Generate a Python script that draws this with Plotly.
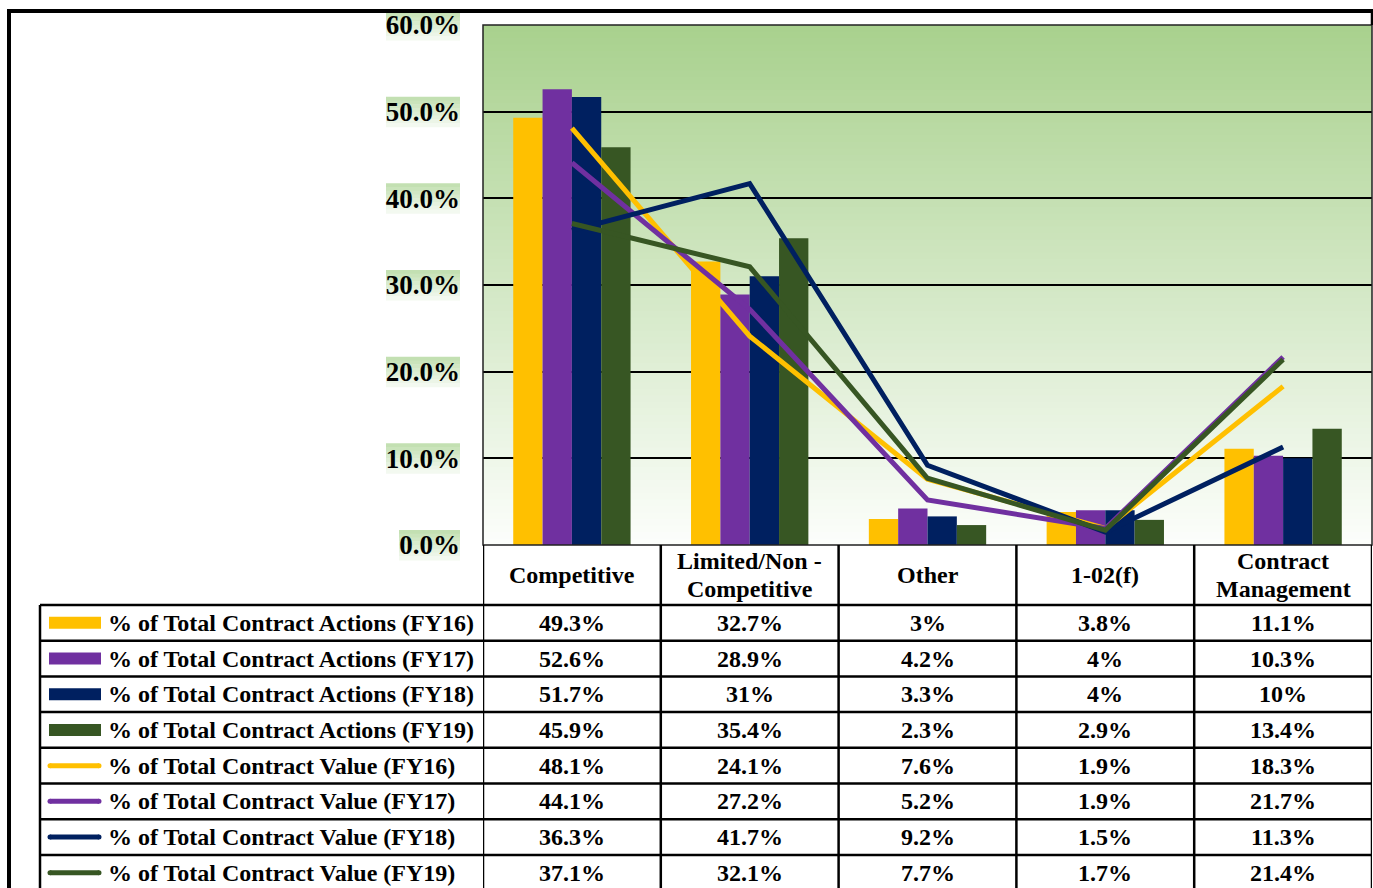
import plotly.graph_objects as go

categories = ["Competitive", "Limited/Non -<br>Competitive", "Other", "1-02(f)", "Contract<br>Management"]

actions_fy16 = [49.3, 32.7, 3, 3.8, 11.1]
actions_fy17 = [52.6, 28.9, 4.2, 4, 10.3]
actions_fy18 = [51.7, 31, 3.3, 4, 10]
actions_fy19 = [45.9, 35.4, 2.3, 2.9, 13.4]
value_fy16 = [48.1, 24.1, 7.6, 1.9, 18.3]
value_fy17 = [44.1, 27.2, 5.2, 1.9, 21.7]
value_fy18 = [36.3, 41.7, 9.2, 1.5, 11.3]
value_fy19 = [37.1, 32.1, 7.7, 1.7, 21.4]

bar_names = ["% of Total Contract Actions (FY16)", "% of Total Contract Actions (FY17)",
             "% of Total Contract Actions (FY18)", "% of Total Contract Actions (FY19)"]
line_names = ["% of Total Contract Value (FY16)", "% of Total Contract Value (FY17)",
              "% of Total Contract Value (FY18)", "% of Total Contract Value (FY19)"]
tick_vals = [0, 10, 20, 30, 40, 50, 60]
tick_text = ["0.0%", "10.0%", "20.0%", "30.0%", "40.0%", "50.0%", "60.0%"]

colors = ["#FFC000", "#7030A0", "#002060", "#375623"]

W, H = 1373, 888
FONT = "Liberation Serif"
TSIZE = 24


def px(x):
    return x / W


def py(y):
    return 1 - y / H


PLOT_L, PLOT_R, PLOT_T, PLOT_B = 483, 1372, 25, 545

fig = go.Figure()
bar_series = [actions_fy16, actions_fy17, actions_fy18, actions_fy19]
line_series = [value_fy16, value_fy17, value_fy18, value_fy19]
for name, vals, c in zip(bar_names, bar_series, colors):
    fig.add_trace(go.Bar(x=categories, y=vals, name=name, marker=dict(color=c, line=dict(width=0))))
for name, vals, c in zip(line_names, line_series, colors):
    fig.add_trace(go.Scatter(x=categories, y=vals, name=name, mode="lines",
                             line=dict(color=c, width=5)))

shapes = []
annotations = []

# gradient plot background
n = 80
top = (169, 209, 142)
bot = (252, 254, 251)
for i in range(n):
    f = i / (n - 1)
    col = tuple(int(round(top[k] + (bot[k] - top[k]) * f)) for k in range(3))
    y1 = 60 - 60 * i / n
    y0 = 60 - 60 * (i + 1) / n
    shapes.append(dict(type="rect", xref="x domain", yref="y", x0=0, x1=1, y0=y0 - 0.05, y1=y1,
                       fillcolor="rgb(%d,%d,%d)" % col, line=dict(width=0), layer="below"))

# tick label background boxes
for v, t in zip(tick_vals, tick_text):
    yc = PLOT_B - (PLOT_B - PLOT_T) * v / 60
    x1 = 460
    x0 = 386 if len(t) == 5 else 399
    nb = 8
    for j in range(nb):
        f = j / (nb - 1)
        c0 = (195, 224, 178)
        c1 = (243, 249, 240)
        col = tuple(int(round(c0[k] + (c1[k] - c0[k]) * f)) for k in range(3))
        ya = yc - 15 + 30 * j / nb
        yb = yc - 15 + 30 * (j + 1) / nb + 0.5
        shapes.append(dict(type="rect", xref="paper", yref="paper", x0=px(x0), x1=px(x1),
                           y0=py(yb), y1=py(ya), fillcolor="rgb(%d,%d,%d)" % col,
                           line=dict(width=0), layer="below"))

# plot border
shapes.append(dict(type="rect", xref="x domain", yref="y domain", x0=0, x1=1, y0=0, y1=1,
                   line=dict(color="#222222", width=1.5), layer="above"))

# outer frame
shapes.append(dict(type="line", xref="paper", yref="paper", x0=px(7), x1=1.0, y0=py(11), y1=py(11),
                   line=dict(color="black", width=4)))
shapes.append(dict(type="line", xref="paper", yref="paper", x0=px(9), x1=px(9), y0=py(9), y1=0,
                   line=dict(color="black", width=4)))
shapes.append(dict(type="line", xref="paper", yref="paper", x0=px(1372), x1=px(1372), y0=py(9), y1=py(PLOT_T),
                   line=dict(color="black", width=2.5)))

# data table
ROW_TOP = 605
ROW_H = 35.7
LEG_L = 40
lw = 2.5
for i in range(len(categories) + 1):
    shapes.append(dict(type="line", xref="x", yref="paper", x0=i - 0.5, x1=i - 0.5,
                       y0=py(PLOT_B), y1=0, line=dict(color="black", width=lw)))
shapes.append(dict(type="line", xref="paper", yref="paper", x0=px(LEG_L), x1=px(LEG_L),
                   y0=py(ROW_TOP), y1=0, line=dict(color="black", width=lw)))
for k in range(8):
    yy = ROW_TOP + ROW_H * k
    shapes.append(dict(type="line", xref="paper", yref="paper", x0=px(LEG_L), x1=px(PLOT_R),
                       y0=py(yy), y1=py(yy), line=dict(color="black", width=lw)))

# header labels (one annotation per text line, 28px line pitch)
hc = (PLOT_B + ROW_TOP) / 2
for c in categories:
    parts = c.split("<br>")
    for j, part in enumerate(parts):
        yline = hc + (j - (len(parts) - 1) / 2) * 28
        annotations.append(dict(x=c, y=py(yline), xref="x", yref="paper", text=part,
                                showarrow=False, xanchor="center", yanchor="middle",
                                font=dict(family=FONT, size=TSIZE, color="black", weight="bold")))


def fmt(v):
    return ("%g" % v) + "%"


all_names = bar_names + line_names
all_series = bar_series + line_series
for r, (name, vals) in enumerate(zip(all_names, all_series)):
    yc = ROW_TOP + ROW_H * (r + 0.5)
    annotations.append(dict(x=px(106), y=py(yc), xref="paper", yref="paper", text=name,
                            showarrow=False, xanchor="left", yanchor="middle",
                            font=dict(family=FONT, size=TSIZE, color="black", weight="bold")))
    for c, v in zip(categories, vals):
        annotations.append(dict(x=c, y=py(yc), xref="x", yref="paper", text=fmt(v),
                                showarrow=False, xanchor="center", yanchor="middle",
                                font=dict(family=FONT, size=TSIZE, color="black", weight="bold")))
    col = colors[r % 4]
    if r < 4:
        shapes.append(dict(type="rect", xref="paper", yref="paper", x0=px(49), x1=px(101),
                           y0=py(yc + 6), y1=py(yc - 6), fillcolor=col, line=dict(width=0)))
    else:
        shapes.append(dict(type="line", xref="paper", yref="paper", x0=px(50), x1=px(99),
                           y0=py(yc), y1=py(yc), line=dict(color=col, width=5)))
        for xc in (50, 99):
            shapes.append(dict(type="circle", xref="paper", yref="paper", x0=px(xc - 2.5), x1=px(xc + 2.5),
                               y0=py(yc + 2.5), y1=py(yc - 2.5), fillcolor=col, line=dict(width=0)))

fig.update_layout(
    width=W, height=H, autosize=False,
    margin=dict(l=0, r=0, t=0, b=0, pad=0, autoexpand=False),
    paper_bgcolor="white", plot_bgcolor="white",
    barmode="group", bargap=0.34, bargroupgap=0,
    showlegend=False,
    shapes=shapes, annotations=annotations,
    xaxis=dict(domain=[px(PLOT_L), px(PLOT_R)], showticklabels=False, ticks="", showgrid=False,
               zeroline=False, showline=False, automargin=False, title=None,
               range=[-0.5, len(categories) - 0.5]),
    yaxis=dict(domain=[py(PLOT_B), py(PLOT_T)], range=[0, 60], tickvals=tick_vals, ticktext=tick_text,
               showgrid=True, gridcolor="black", gridwidth=1.5, zeroline=False, showline=False,
               ticks="", ticklabelstandoff=22, automargin=False, title=None,
               tickfont=dict(family=FONT, size=27, color="black", weight="bold")),
)

fig.write_html("out.html")
